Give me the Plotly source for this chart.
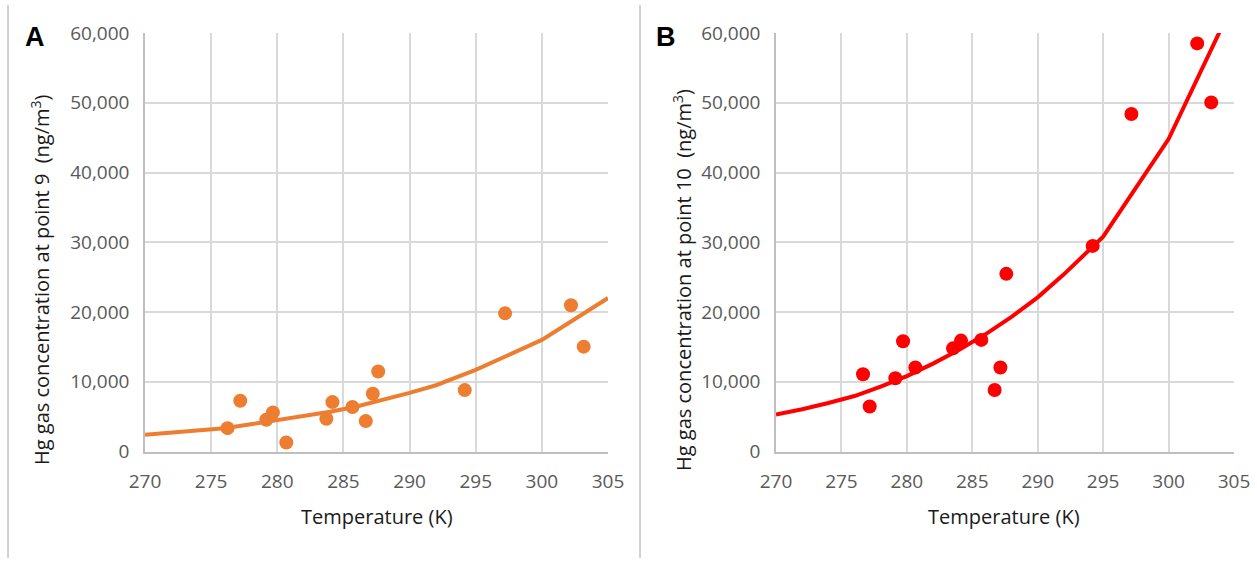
import plotly.graph_objects as go

# Panel A (point 9) measured data
temp_a = [276.24, 277.2, 279.17, 279.67, 280.68, 283.71, 284.17, 285.68, 286.69, 287.22, 287.63, 294.17, 297.22, 302.2, 303.16]
conc_a = [3350, 7270, 4550, 5600, 1290, 4690, 7080, 6370, 4360, 8280, 11480, 8800, 19810, 20960, 15030]
# Panel A model curve
model_t_a = [270, 273, 276, 278, 280, 282, 284, 286, 288, 290, 292, 295, 300, 305]
model_c_a = [2400, 2850, 3330, 3900, 4500, 5050, 5700, 6450, 7400, 8400, 9500, 11700, 16000, 22000]

# Panel B (point 10) measured data
temp_b = [276.65, 277.16, 279.12, 279.71, 280.65, 283.53, 284.14, 285.69, 286.71, 287.15, 287.6, 294.2, 297.16, 302.19, 303.26]
conc_b = [11080, 6460, 10500, 15800, 12050, 14790, 15900, 16000, 8820, 12050, 25470, 29480, 48380, 58510, 50050]
# Panel B model curve
model_t_b = [270, 272, 274, 276, 278, 280, 282, 284, 286, 288, 290, 292, 295, 300, 305]
model_c_b = [5300, 6050, 6950, 7950, 9300, 10800, 12600, 14600, 16800, 19300, 22100, 25400, 30800, 44800, 64500]

x_ticks = [270, 275, 280, 285, 290, 295, 300, 305]
y_ticks = [0, 10000, 20000, 30000, 40000, 50000, 60000]
y_tick_text = ["0", "10,000", "20,000", "30,000", "40,000", "50,000", "60,000"]

ORANGE = "#ED7D31"
RED = "#FF0000"
FONT = "Open Sans"
W, H = 1257, 564

fig = go.Figure()
fig.add_trace(go.Scatter(x=model_t_a, y=model_c_a, mode="lines", line=dict(color=ORANGE, width=4),
                         xaxis="x", yaxis="y", showlegend=False, hoverinfo="skip"))
fig.add_trace(go.Scatter(x=temp_a, y=conc_a, mode="markers", marker=dict(color=ORANGE, size=14),
                         xaxis="x", yaxis="y", showlegend=False, cliponaxis=False))
fig.add_trace(go.Scatter(x=model_t_b, y=model_c_b, mode="lines", line=dict(color=RED, width=4),
                         xaxis="x2", yaxis="y2", showlegend=False, hoverinfo="skip"))
fig.add_trace(go.Scatter(x=temp_b, y=conc_b, mode="markers", marker=dict(color=RED, size=14),
                         xaxis="x2", yaxis="y2", showlegend=False, cliponaxis=False))

def xaxis(domain, anchor):
    return dict(domain=domain, anchor=anchor, range=[270, 305], tickvals=x_ticks,
                showgrid=True, gridcolor="#d9d9d9", gridwidth=1.5,
                showline=True, linecolor="#bfbfbf", linewidth=1.5, zeroline=False,
                ticks="", ticklabelstandoff=12, automargin=False,
                tickfont=dict(family=FONT, size=19, color="#595959"))

def yaxis(domain, anchor):
    return dict(domain=domain, anchor=anchor, range=[0, 60000], tickvals=y_ticks, ticktext=y_tick_text,
                showgrid=True, gridcolor="#d9d9d9", gridwidth=1.5,
                showline=True, linecolor="#bfbfbf", linewidth=1.5, zeroline=False,
                ticks="", ticklabelstandoff=10, automargin=False,
                tickfont=dict(family=FONT, size=19, color="#595959"))

ydom = [1 - 451.5 / H, 1 - 33 / H]
fig.update_layout(
    width=W, height=H, autosize=False,
    margin=dict(l=0, r=0, t=0, b=0, pad=0, autoexpand=False),
    paper_bgcolor="white", plot_bgcolor="white",
    xaxis=xaxis([145 / W, 608 / W], "y"),
    yaxis=yaxis(ydom, "x"),
    xaxis2=xaxis([776 / W, 1234 / W], "y2"),
    yaxis2=yaxis(ydom, "x2"),
)

ann = []
for x_c, label, ytitle, xt in [(40, "A", "Hg gas concentration at point 9  (ng/m<sup>3</sup>)", 377),
                               (682, "B", "Hg gas concentration at point 10  (ng/m<sup>3</sup>)", 1004)]:
    ann.append(dict(x=x_c / W, y=1 - 280 / H, xref="paper", yref="paper", text=ytitle, textangle=-90,
                    showarrow=False, xanchor="center", yanchor="middle",
                    font=dict(family=FONT, size=20, color="#1a1a1a")))
    ann.append(dict(x=xt / W, y=1 - 516 / H, xref="paper", yref="paper", text="Temperature (K)",
                    showarrow=False, xanchor="center", yanchor="middle",
                    font=dict(family=FONT, size=20, color="#1a1a1a")))
ann.append(dict(x=35 / W, y=1 - 37 / H, xref="paper", yref="paper", text="<b>A</b>", showarrow=False,
                xanchor="center", yanchor="middle", font=dict(family="Liberation Sans", size=27, color="black")))
ann.append(dict(x=666 / W, y=1 - 37 / H, xref="paper", yref="paper", text="<b>B</b>", showarrow=False,
                xanchor="center", yanchor="middle", font=dict(family="Liberation Sans", size=27, color="black")))
fig.update_layout(annotations=ann)

fig.update_layout(shapes=[
    dict(type="line", xref="paper", yref="paper", x0=8 / W, x1=8 / W, y0=1 - 5 / H, y1=1 - 558 / H,
         line=dict(color="#a6a6a6", width=1)),
    dict(type="line", xref="paper", yref="paper", x0=640 / W, x1=640 / W, y0=1 - 5 / H, y1=1 - 558 / H,
         line=dict(color="#a6a6a6", width=1)),
])

fig.write_html("out.html", config={"displayModeBar": False},
               post_script="document.body.style.margin='0';document.body.style.overflow='hidden';")
